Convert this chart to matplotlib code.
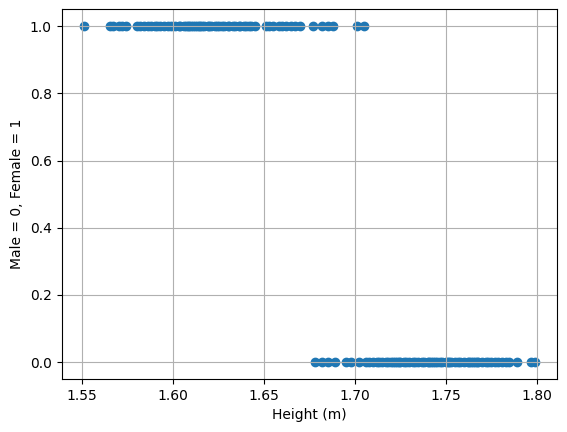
import matplotlib
matplotlib.use("Agg")
import matplotlib.pyplot as plt

female_heights = [
    1.551, 1.565, 1.567, 1.570, 1.572, 1.574,
    1.580, 1.582, 1.584, 1.586, 1.588, 1.590, 1.591, 1.593, 1.595, 1.597,
    1.599, 1.601, 1.603, 1.604, 1.606, 1.607, 1.608, 1.609, 1.610, 1.611,
    1.612, 1.613, 1.614, 1.615, 1.616, 1.617, 1.619, 1.620, 1.621, 1.623,
    1.624, 1.625, 1.627, 1.628, 1.630, 1.631, 1.633, 1.634, 1.636, 1.637,
    1.639, 1.640, 1.642, 1.643, 1.645,
    1.651, 1.653, 1.655, 1.658, 1.660, 1.662, 1.665, 1.667, 1.670,
    1.677, 1.682, 1.685, 1.688, 1.701, 1.705,
]
male_heights = [
    1.678, 1.682, 1.685, 1.689, 1.695, 1.698, 1.702,
    1.706, 1.708, 1.710, 1.712, 1.713, 1.715, 1.717, 1.718, 1.720, 1.721,
    1.722, 1.723, 1.724, 1.725, 1.727, 1.728, 1.730, 1.732, 1.733, 1.735,
    1.737, 1.738, 1.740, 1.741, 1.742, 1.743, 1.744, 1.745, 1.747, 1.748,
    1.750, 1.751, 1.752, 1.753, 1.755, 1.757, 1.758, 1.760, 1.762, 1.763,
    1.764, 1.765, 1.766, 1.767, 1.768, 1.770, 1.772, 1.773, 1.775, 1.777,
    1.779, 1.781, 1.783, 1.785, 1.789, 1.797, 1.799,
]
female_label = 1
male_label = 0

heights = female_heights + male_heights
labels = [female_label] * len(female_heights) + [male_label] * len(male_heights)

fig = plt.figure(figsize=(5.67, 4.32), dpi=100)
fig.subplots_adjust(left=0.1085, right=0.983, bottom=0.1227, top=0.9785)
ax = fig.add_subplot(111)
ax.scatter(heights, labels)
ax.set_xlabel("Height (m)")
ax.set_ylabel("Male = 0, Female = 1")
ax.grid(True)
fig.savefig("out.png", dpi=100)
